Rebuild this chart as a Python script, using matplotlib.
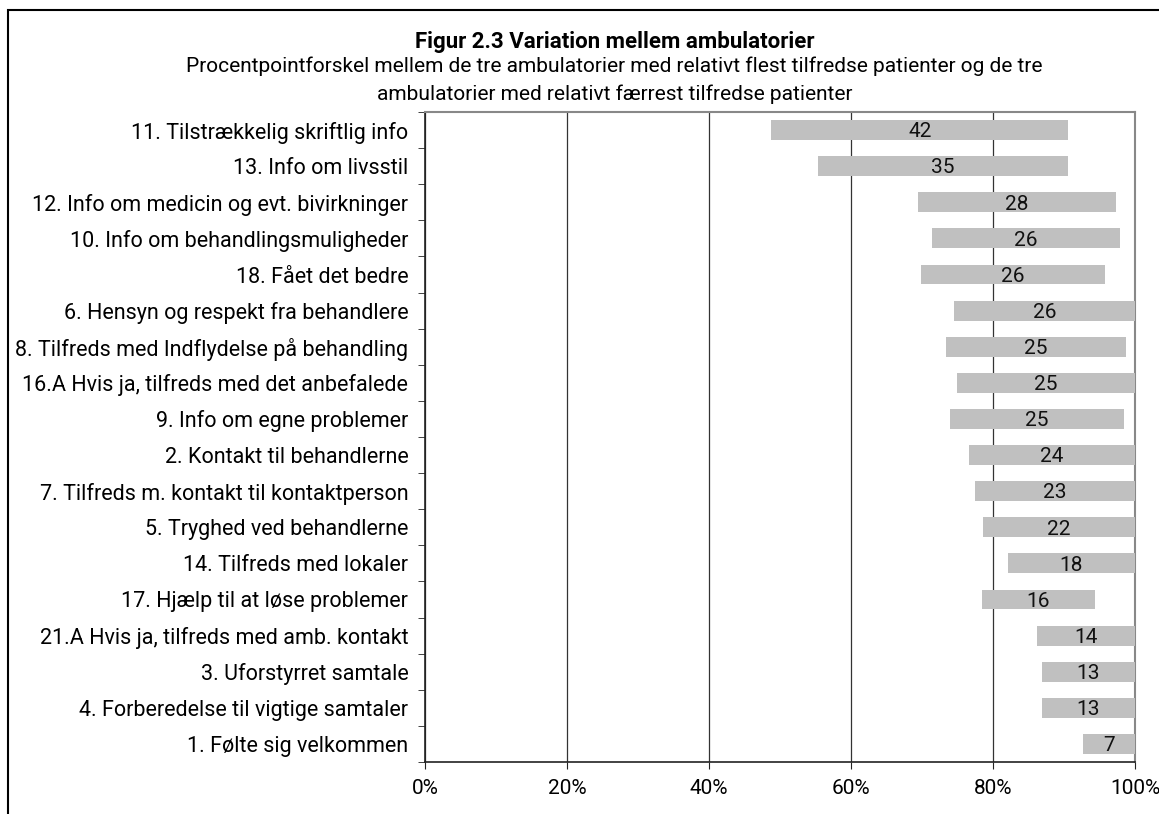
import numpy as np
import matplotlib.pyplot as plt
from matplotlib.patches import Rectangle

plt.rcParams['font.family'] = ['Roboto', 'DejaVu Sans']

# data (percent)
categories = [
    "11. Tilstrækkelig skriftlig info",
    "13. Info om livsstil",
    "12. Info om medicin og evt. bivirkninger",
    "10. Info om behandlingsmuligheder",
    "18. Fået det bedre",
    "6. Hensyn og respekt fra behandlere",
    "8. Tilfreds med Indflydelse på behandling",
    "16.A Hvis ja, tilfreds med det anbefalede",
    "9. Info om egne problemer",
    "2. Kontakt til behandlerne",
    "7. Tilfreds m. kontakt til kontaktperson",
    "5. Tryghed ved behandlerne",
    "14. Tilfreds med lokaler",
    "17. Hjælp til at løse problemer",
    "21.A Hvis ja, tilfreds med amb. kontakt",
    "3. Uforstyrret samtale",
    "4. Forberedelse til vigtige samtaler",
    "1. Følte sig velkommen",
]
lowest = [48.8, 55.3, 69.4, 71.4, 69.8, 74.5, 73.4, 74.9, 73.9, 76.6,
          77.4, 78.6, 82.1, 78.4, 86.2, 86.9, 86.9, 92.7]
highest = [90.6, 90.6, 97.3, 97.9, 95.8, 100, 98.7, 100, 98.4, 100,
           100, 100, 100, 94.4, 100, 100, 100, 100]
diff_labels = [42, 35, 28, 26, 26, 26, 25, 25, 25, 24, 23, 22, 18, 16, 14, 13, 13, 7]

fig = plt.figure(figsize=(11.59, 8.14), dpi=100)
ax = fig.add_axes([0.3667, 0.0639, 0.6126, 0.7985])

y = np.arange(len(categories))
lo = np.array(lowest)
hi = np.array(highest)
ax.barh(y, hi - lo, left=lo, height=0.55, color='#c0c0c0', zorder=3)
for yi, l, h, d in zip(y, lo, hi, diff_labels):
    ax.text((l + h) / 2, yi + 0.05, str(d), ha='center', va='center',
            fontsize=15, color='#111111', zorder=4)

ax.set_xlim(0, 100)
ax.set_ylim(len(categories) - 0.5, -0.5)
ax.set_xticks(np.arange(0, 101, 20))
ax.set_xticklabels([f"{v}%" for v in range(0, 101, 20)], fontsize=15)
ax.xaxis.grid(True, color='#333333', linewidth=0.9, zorder=0)
ax.tick_params(axis='x', direction='out', length=5, pad=7, color='#222222')

ax.set_yticks(y)
ax.set_yticklabels(categories, fontsize=15.5)
ax.set_yticks(np.arange(-0.5, len(categories), 1), minor=True)
ax.tick_params(axis='y', which='major', length=0, pad=12)
ax.tick_params(axis='y', which='minor', direction='out', length=5, color='#222222')

for s in ['left', 'bottom']:
    ax.spines[s].set_color('#222222')
    ax.spines[s].set_linewidth(1.2)
for s in ['top', 'right']:
    ax.spines[s].set_color('#888888')
    ax.spines[s].set_linewidth(1.5)

fig.text(0.53, 0.948, "Figur 2.3 Variation mellem ambulatorier", ha='center',
         va='center', fontsize=16, fontweight='bold')
fig.text(0.53, 0.901, "Procentpointforskel mellem de tre ambulatorier med relativt flest tilfredse patienter og de tre\nambulatorier med relativt færrest tilfredse patienter",
         ha='center', va='center', fontsize=15, linespacing=1.55)

fig.add_artist(Rectangle((8 / 1159, -0.1), 1.1, 1.1 - 10 / 814, transform=fig.transFigure,
                         fill=False, edgecolor='black', linewidth=1.5))

fig.savefig("out.png", dpi=100)
